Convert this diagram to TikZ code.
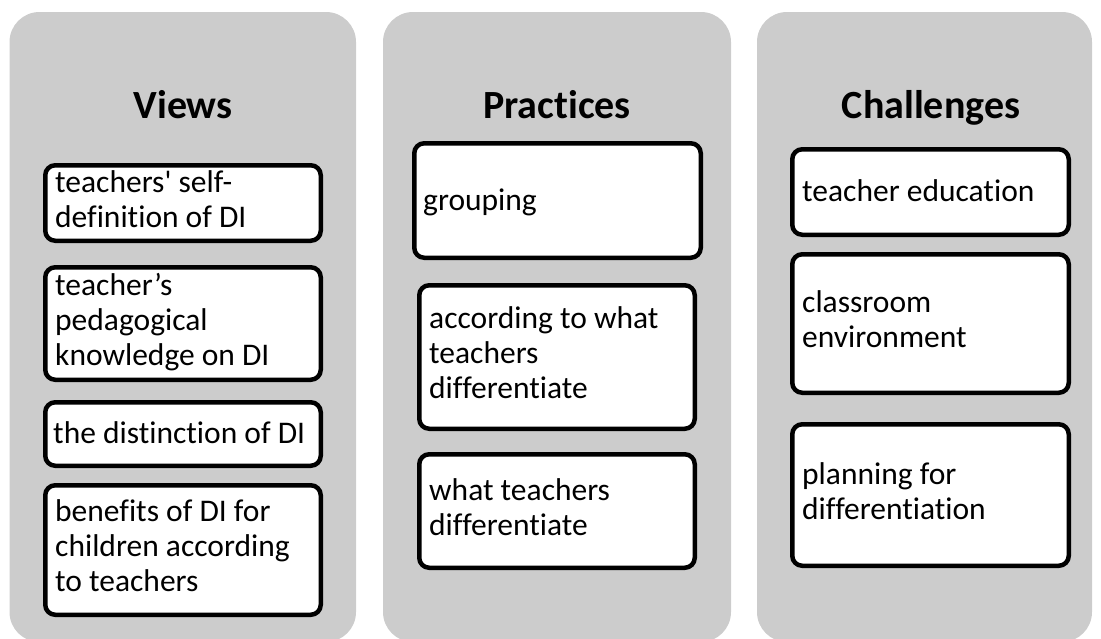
\documentclass[tikz,border=0pt]{standalone}
\usepackage{fontspec}
\setmainfont{Carlito}[Ligatures={TeX,NoCommon}]
\definecolor{panelgray}{RGB}{204,204,204}
% strut giving every text block the same line box (height 27pt, depth 8pt)
\newcommand\cardstrut{\rule[-8pt]{0pt}{35pt}}
\begin{document}
\begin{tikzpicture}[x=1pt,y=-1pt,
  panel/.style={fill=panelgray, draw=none, rounded corners=30pt, inner sep=0pt},
  heading/.style={font=\fontsize{40}{48}\selectfont\bfseries, anchor=base, inner sep=0pt},
  card/.style={draw=black, line width=4.5pt, fill=white, rounded corners=10pt, inner sep=0pt},
  cardtext/.style={anchor=west, inner sep=0pt, align=left,
    font=\fontsize{31.5}{35}\selectfont,
    execute at begin node=\cardstrut, execute at end node=\cardstrut},
]
\useasboundingbox (0,0) rectangle (1101,638);
\clip (0,0) rectangle (1101,638);

% column panels
\node[panel, minimum width=346.5, minimum height=630] (pv) at (182.75,327) {};
\node[panel, minimum width=348,   minimum height=630] (pp) at (557,327) {};
\node[panel, minimum width=335,   minimum height=630] (pc) at (924.5,327) {};

% headings
\node[heading] (hv) at (183,118) {Views};
\node[heading] (hp) at (557,118) {Practices};
\node[heading] (hc) at (931,118) {Challenges};

% Views
\node[card, minimum width=275.5, minimum height=75.5]  (v1) at (183,203)   {};
\node[card, minimum width=275.5, minimum height=112.5] (v2) at (183,323.5) {};
\node[card, minimum width=275.5, minimum height=63.5]  (v3) at (183,434)   {};
\node[card, minimum width=275.5, minimum height=129.5] (v4) at (183,550)   {};
\node[cardtext] (v1t) at ([xshift=12pt]v1.west) {teachers\textquotesingle{} self-\\definition of DI};
\node[cardtext] (v2t) at ([xshift=12pt]v2.west) {teacher’s\\pedagogical\\knowledge on DI};
\node[cardtext] (v3t) at ([xshift=10pt]v3.west) {the distinction of DI};
\node[cardtext] (v4t) at ([xshift=12pt]v4.west) {benefits of DI for\\children according\\to teachers};

% Practices
\node[card, minimum width=286.5, minimum height=114.5] (p1) at (557.5,200.5) {};
\node[card, minimum width=275.5, minimum height=143.5] (p2) at (557,357)     {};
\node[card, minimum width=275.5, minimum height=113.5] (p3) at (557,511)     {};
\node[cardtext] (p1t) at ([xshift=11pt]p1.west) {grouping};
\node[cardtext] (p2t) at ([xshift=12pt]p2.west) {according to what\\teachers\\differentiate};
\node[cardtext] (p3t) at ([xshift=12pt]p3.west) {what teachers\\differentiate};

% Challenges
\node[card, minimum width=276.5, minimum height=85.5]  (c1) at (930.5,192)   {};
\node[card, minimum width=276.5, minimum height=138.5] (c2) at (930.5,323.5) {};
\node[card, minimum width=276.5, minimum height=141.5] (c3) at (930.5,495)   {};
\node[cardtext] (c1t) at ([xshift=12pt]c1.west) {teacher education};
\node[cardtext] (c2t) at ([xshift=12pt]c2.west) {classroom\\environment};
\node[cardtext] (c3t) at ([xshift=12pt]c3.west) {planning for\\differentiation};
\end{tikzpicture}
\end{document}
